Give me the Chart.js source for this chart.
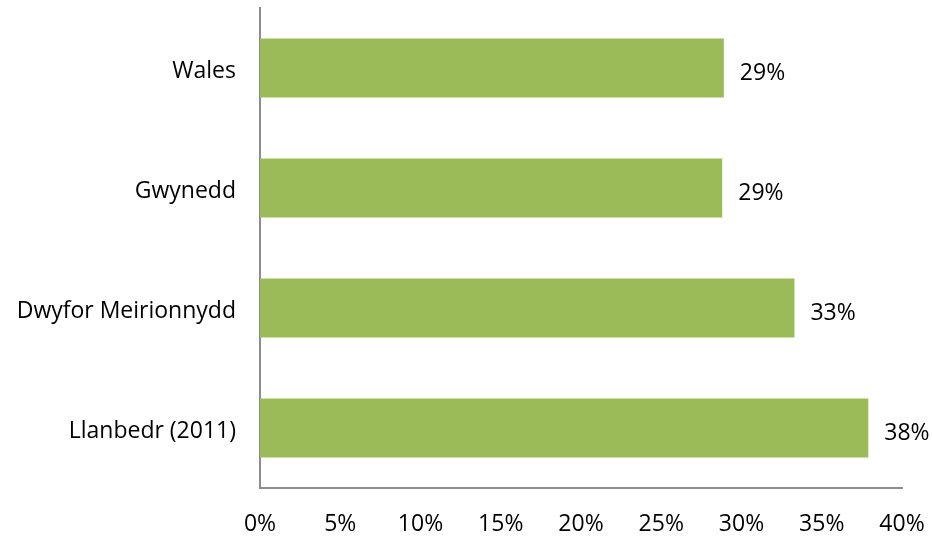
<!DOCTYPE html>
<html>
<head>
<meta charset="utf-8">
<script src="https://cdn.jsdelivr.net/npm/chart.js@4"></script>
<style>
  html, body { margin: 0; padding: 0; background: #fff; }
  #wrap { width: 932px; height: 538px; }
</style>
</head>
<body>
<div id="wrap"><canvas id="graficoBarras" width="932" height="538"></canvas></div>
<script>
var categorias = ['Wales', 'Gwynedd', 'Dwyfor Meirionnydd', 'Llanbedr (2011)'];
var valores = [28.9, 28.8, 33.3, 37.9];
var etiquetas = ['29%', '29%', '33%', '38%'];
var ticksX = [0, 5, 10, 15, 20, 25, 30, 35, 40];

var fuente = '"Open Sans", sans-serif';
var tamano = 23;

// dibuja los valores al final de cada barra
var etiquetasPlugin = {
  id: 'etiquetas',
  afterDatasetsDraw: function (chart) {
    var ctx = chart.ctx;
    var meta = chart.getDatasetMeta(0);
    ctx.save();
    ctx.font = tamano + 'px ' + fuente;
    ctx.fillStyle = '#000';
    ctx.textAlign = 'left';
    ctx.textBaseline = 'middle';
    meta.data.forEach(function (bar, i) {
      ctx.fillText(etiquetas[i], bar.x + 16, bar.y + 5);
    });
    ctx.restore();
  }
};

var ctx = document.getElementById('graficoBarras').getContext('2d');
var graficoBarras = new Chart(ctx, {
  type: 'bar',
  data: {
    labels: categorias,
    datasets: [{
      data: valores,
      backgroundColor: '#9BBB59',
      borderWidth: 0,
      barPercentage: 0.49,
      categoryPercentage: 1
    }]
  },
  options: {
    indexAxis: 'y',
    responsive: false,
    animation: false,
    layout: { padding: { top: 8, right: 30, left: 0, bottom: 0 } },
    plugins: {
      legend: { display: false },
      tooltip: { enabled: false }
    },
    scales: {
      x: {
        min: 0,
        max: 40,
        afterBuildTicks: function (axis) {
          axis.ticks = ticksX.map(function (v) { return { value: v }; });
        },
        afterFit: function (axis) {
          axis.height = 50;
          axis.paddingLeft = 0;
          axis.paddingRight = 0;
        },
        grid: { display: false, drawTicks: false },
        border: { display: true, color: '#8c8c8c', width: 2 },
        ticks: {
          padding: 23,
          color: '#000',
          font: { family: fuente, size: tamano },
          maxRotation: 0,
          callback: function (v) { return v + '%'; }
        }
      },
      y: {
        afterFit: function (axis) {
          axis.width = 260;
          axis.paddingTop = 0;
          axis.paddingBottom = 0;
        },
        grid: { display: false, drawTicks: false },
        border: { display: true, color: '#8c8c8c', width: 2 },
        ticks: {
          padding: 24,
          labelOffset: 3,
          color: '#000',
          font: { family: fuente, size: tamano }
        }
      }
    }
  },
  plugins: [etiquetasPlugin]
});
</script>
</body>
</html>
